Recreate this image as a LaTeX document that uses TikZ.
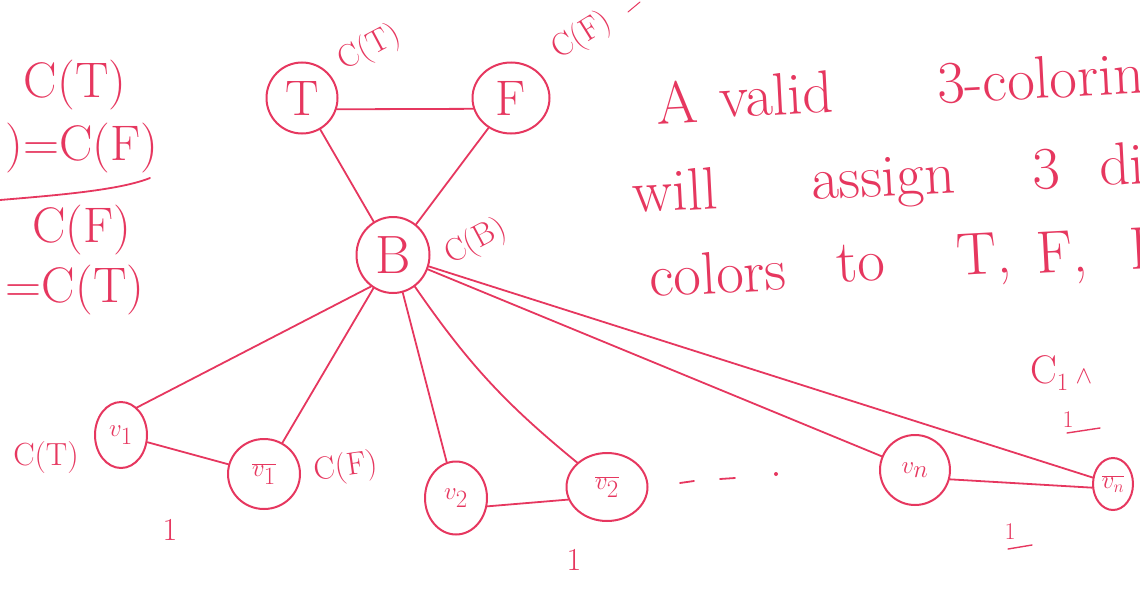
\documentclass[tikz,border=0pt]{standalone}
\usetikzlibrary{shapes.geometric}
\definecolor{ink}{RGB}{230,55,95}
\begin{document}
\begin{tikzpicture}[x=1pt,y=-1pt,
  every node/.style={text=ink},
  vtx/.style={draw=ink, ellipse, line width=2pt, inner sep=0pt},
  edge/.style={draw=ink, line width=1.8pt, line cap=round},
  huge/.style={font=\fontsize{50}{60}\selectfont},
  word/.style={font=\fontsize{60}{70}\selectfont, anchor=base west, inner sep=0pt, rotate=3},
  lab/.style={font=\fontsize{32}{38}\selectfont, inner sep=0pt},
  vlab/.style={font=\fontsize{36}{40}\selectfont}
]
\useasboundingbox (0,0) rectangle (1140,589);
\clip (0,0) rectangle (1140,589);

% left derivation
\node[huge] (l1) at (75,85) {C(T)};
\node[huge] (l2) at (82,148) {)=C(F)};
\draw[edge] (0,200) .. controls (60,195) and (120,190) .. (150,178);
\node[huge] (l3) at (82,230) {C(F)};
\node[huge] (l4) at (75,290) {=C(T)};

% vertices
\node[vtx, minimum width=71pt, minimum height=71pt, font=\fontsize{50}{50}\selectfont] (T) at (302,98) {T};
\node[vtx, minimum width=77pt, minimum height=71pt, font=\fontsize{50}{50}\selectfont] (F) at (511,98) {F};
\node[vtx, minimum width=73pt, minimum height=76pt, font=\fontsize{54}{54}\selectfont] (B) at (393,255) {B};
\node[vtx, minimum width=52pt, minimum height=66pt, vlab] (v1) at (121,435) {$v_1$};
\node[vtx, minimum width=72pt, minimum height=70pt, vlab] (v1b) at (264,474) {$\overline{v_1}$};
\node[vtx, minimum width=62pt, minimum height=73pt, vlab] (v2) at (456,498) {$v_2$};
\node[vtx, minimum width=81pt, minimum height=68pt, vlab] (v2b) at (607,487) {$\overline{v_2}$};
\node[vtx, minimum width=70pt, minimum height=70pt, vlab] (vn) at (915,470) {$v_n$};
\node[vtx, minimum width=40pt, minimum height=52pt, font=\fontsize{24}{26}\selectfont] (vnb) at (1113,484) {$\overline{v_n}$};

% edges
\draw[edge] (T.-18) -- (F.196);
\draw[edge] (T) -- (B);
\draw[edge] (F) -- (B);
\draw[edge] (B.235) -- (v1.60);
\draw[edge] (B) -- (v1b);
\draw[edge] (B) -- (v2);
\draw[edge] (B) to[bend right=8] (v2b);
\draw[edge] (B) -- (vn);
\draw[edge] (B) -- (vnb);
\draw[edge] (v1) -- (v1b);
\draw[edge] (v2.-15) -- (v2b.198);
\draw[edge] (vn.-15) -- (vnb.190);

% colour labels
\node[lab, rotate=28] (cT) at (370,48) {C(T)};
\node[lab, rotate=32] (cF) at (582,36) {C(F)};
\node[lab, rotate=28] (cB) at (476,242) {C(B)};
\node[lab] (cv1) at (46,458) {C(T)};
\node[lab, rotate=8] (cv1b) at (346,468) {C(F)};

% ones
\node[lab] (o1) at (170,530) {1};
\node[lab] (o2) at (574,560) {1};
\node[lab, font=\fontsize{24}{28}\selectfont] (o3) at (1068,420) {1};
\draw[edge, line width=1.4pt] (1067,433) -- (1100,428);
\node[lab, font=\fontsize{24}{28}\selectfont] (o4) at (1010,532) {1};
\draw[edge, line width=1.4pt] (1008,549) -- (1032,545);
\node[lab, font=\fontsize{40}{44}\selectfont, anchor=base west] (c1) at (1030,383) {C$_1$\,$\wedge$};

% dots
\draw[edge] (680,483) -- (694,481);
\draw[edge] (720,479) -- (735,478);
\fill[ink] (776,474) circle (2pt);
\draw[edge, line width=1pt] (628,12) -- (640,2);

% text block
\node[word] (w1) at (657,125) {A};
\node[word] (w2) at (720,118) {valid};
\node[word] (w3) at (938,104) {3-coloring};
\node[word] (w4) at (633,213) {will};
\node[word] (w5) at (812,200) {assign};
\node[word] (w6) at (1033,190) {3};
\node[word] (w7) at (1100,186) {different};
\node[word] (w8) at (650,297) {colors};
\node[word] (w9) at (837,283) {to};
\node[word] (w10) at (957,276) {T,};
\node[word] (w11) at (1037,274) {F,};
\node[word] (w12) at (1130,270) {B};
\end{tikzpicture}
\end{document}
